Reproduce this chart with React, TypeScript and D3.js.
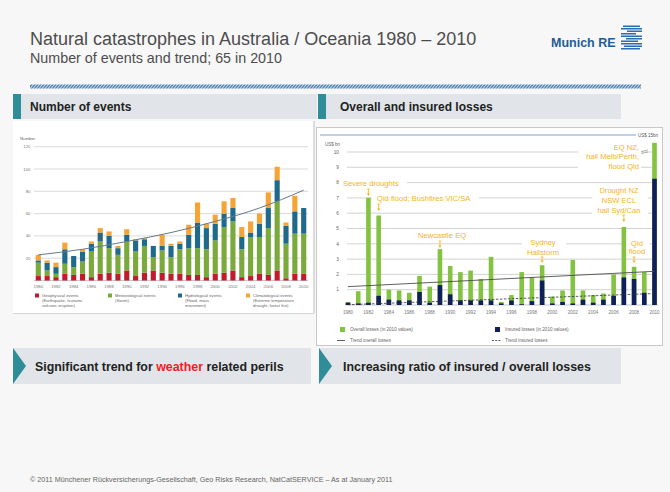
import React from 'react';
import * as d3 from 'd3';

// ---- Number of events (Australia / Oceania) ----
const years = [
  1980, 1981, 1982, 1983, 1984, 1985, 1986, 1987, 1988, 1989, 1990,
  1991, 1992, 1993, 1994, 1995, 1996, 1997, 1998, 1999, 2000,
  2001, 2002, 2003, 2004, 2005, 2006, 2007, 2008, 2009, 2010,
];
const geophysical = [4, 4, 3, 6, 5, 6, 3, 6, 7, 6, 9, 4, 7, 9, 7, 6, 6, 5, 5, 3, 6, 7, 9, 3, 4, 6, 5, 9, 2, 6, 6];
const meteorological = [12, 5, 3, 9, 7, 11, 23, 29, 22, 17, 26, 22, 24, 12, 20, 15, 22, 24, 24, 25, 30, 41, 44, 25, 35, 33, 42, 62, 31, 36, 36];
const hydrological = [2, 7, 6, 13, 10, 9, 7, 8, 11, 6, 6, 10, 6, 10, 4, 10, 5, 12, 23, 19, 15, 12, 12, 11, 4, 12, 18, 19, 16, 20, 23];
const climatological = [5, 2, 4, 6, 0, 2, 2, 4, 4, 2, 5, 1, 1, 0, 10, 2, 2, 9, 18, 4, 8, 11, 9, 9, 10, 9, 14, 12, 3, 14, 0];
const eventTrend: [number, number][] = [
  [1980, 23], [1985, 28], [1990, 35], [1995, 43], [2000, 53], [2005, 65], [2010, 81],
];
const eventTicks = [20, 40, 60, 80, 100, 120];
const yearTicks = [1980, 1982, 1984, 1986, 1988, 1990, 1992, 1994, 1996, 1998, 2000, 2002, 2004, 2006, 2008, 2010];
const eventLegend = [
  { key: 'geophysical', lines: ['Geophysical events', '(Earthquake, tsunami,', 'volcanic eruption)'] },
  { key: 'meteorological', lines: ['Meteorological events', '(Storm)'] },
  { key: 'hydrological', lines: ['Hydrological events', '(Flood, mass', 'movement)'] },
  { key: 'climatological', lines: ['Climatological events', '(Extreme temperature,', 'drought, forest fire)'] },
];

// ---- Overall and insured losses, US$ bn (2010 values) ----
const overallLosses = [0.2, 0.9, 7.0, 5.85, 1.0, 0.95, 0.8, 1.9, 1.2, 3.65, 2.55, 2.15, 2.25, 1.7, 3.15, 0.2, 0.65, 2.15, 1.8, 2.6, 0.55, 0.95, 2.95, 0.95, 0.65, 0.75, 2.0, 5.1, 2.5, 2.15, 15];
const insuredLosses = [0.15, 0.1, 0.15, 0.6, 0.35, 0.3, 0.3, 0.85, 0.15, 1.3, 0.7, 0.3, 0.3, 0.3, 0.3, 0.1, 0.3, 0.05, 0.25, 1.6, 0.1, 0.2, 0.1, 0.35, 0.15, 0.35, 0.6, 1.8, 1.7, 0.8, 8.25];
const overallTrend: [number, number][] = [[1980, 1.2], [2010, 2.2]];
const insuredTrend: [number, number][] = [[1980, 0.02], [2010, 0.75]];
const lossTicks = [1, 2, 3, 4, 5, 6, 7, 8, 9, 10];
const lossEvents = [
  { year: 1982, lines: ['Severe droughts'] },
  { year: 1983, lines: ['Qld flood; Bushfires VIC/SA'] },
  { year: 1989, lines: ['Newcastle EQ'] },
  { year: 1999, lines: ['Sydney', 'Hailstorm'] },
  { year: 2007, lines: ['Drought NZ', 'NSW ECL', 'hail Syd/Can'] },
  { year: 2008, lines: ['Qld', 'flood'] },
  { year: 2010, lines: ['EQ NZ,', 'hail Melb/Perth,', 'flood Qld'] },
];

const FONT = '"Liberation Sans", Arial, Helvetica, sans-serif';
const TEAL = '#2f8d9a';
const BOXGRAY = '#e1e5e9';
const eventColors: Record<string, string> = {
  geophysical: '#c3192c',
  meteorological: '#7aa93c',
  hydrological: '#1f6a8a',
  climatological: '#f6a535',
};
const ANNOT = '#f3b424';

// label placement for the loss annotations (same order as lossEvents)
const annotationLayout = [
  { x: 343, y: 186, anchor: 'start', lh: 10, a0: 189, a1: 196, mask: [339, 177, 68, 12] },
  { x: 377, y: 200.5, anchor: 'start', lh: 10, a0: 204, a1: 211, mask: [372, 191, 107, 12] },
  { x: 418, y: 238, anchor: 'start', lh: 10, a0: 241, a1: 248, mask: [414, 229, 58, 12] },
  { x: 543, y: 245, anchor: 'middle', lh: 9.5, a0: 257, a1: 263, mask: [522, 236, 44, 21] },
  { x: 619, y: 193, anchor: 'middle', lh: 10, a0: 215, a1: 222, mask: [592, 184, 56, 32] },
  { x: 637, y: 245.5, anchor: 'middle', lh: 8.5, a0: 257, a1: 263, mask: [625, 237, 25, 20] },
  { x: 639, y: 149.5, anchor: 'end', lh: 9.5, a0: 0, a1: 0, mask: [578, 141, 63, 30] },
];

function EventsChart() {
  const x = d3.scalePoint<number>().domain(years).range([38.3, 303.7]);
  const bw = x.step() * 0.58;
  const y = d3.scaleLinear().domain([0, 120]).range([280.5, 146.7]);
  const rows = years.map((yr, i) => ({
    year: yr,
    geophysical: geophysical[i],
    meteorological: meteorological[i],
    hydrological: hydrological[i],
    climatological: climatological[i],
  }));
  const keys = ['geophysical', 'meteorological', 'hydrological', 'climatological'];
  const series = d3.stack<any>().keys(keys)(rows);
  const trend = d3
    .line<[number, number]>()
    .x((d) => x(d[0]) as number)
    .y((d) => y(d[1]))
    .curve(d3.curveMonotoneX)(eventTrend);
  const legendX = [35, 108, 178, 246];

  return (
    <g fontFamily={FONT}>
      <rect x={13} y={121} width={301} height={192} fill="#fff" />
      <line x1={314} y1={121} x2={314} y2={313} stroke="#bdbdbd" strokeWidth={1} />
      <line x1={13} y1={313.5} x2={314} y2={313.5} stroke="#d6d6d6" strokeWidth={1} />
      <text x={20} y={140} fontSize={4.3} fill="#666">Number</text>
      {eventTicks.map((t) => (
        <g key={t}>
          <line x1={34} x2={308} y1={y(t)} y2={y(t)} stroke="#d0d0d0" strokeWidth={0.8} />
          <text x={30.5} y={y(t) + 1.5} fontSize={4.3} fill="#777" textAnchor="end">{t}</text>
        </g>
      ))}
      <line x1={34} x2={308} y1={y(0)} y2={y(0)} stroke="#bbb" strokeWidth={0.8} />
      {series.map((s) => (
        <g key={s.key} fill={eventColors[s.key]}>
          {s.map((d, i) => (
            <rect
              key={i}
              x={(x(years[i]) as number) - bw / 2}
              width={bw}
              y={y(d[1])}
              height={Math.max(0, y(d[0]) - y(d[1]))}
            />
          ))}
        </g>
      ))}
      <path d={trend || ''} fill="none" stroke="#66788a" strokeWidth={1} />
      {yearTicks.map((t) => (
        <text key={t} x={x(t)} y={288} fontSize={4.3} fill="#777" textAnchor="middle">{t}</text>
      ))}
      {eventLegend.map((item, i) => (
        <g key={item.key}>
          <rect x={legendX[i]} y={293.5} width={4} height={4} fill={eventColors[item.key]} />
          {item.lines.map((ln, j) => (
            <text key={j} x={legendX[i] + 7} y={297 + j * 5} fontSize={4.2} fill="#666">{ln}</text>
          ))}
        </g>
      ))}
    </g>
  );
}

function LossesChart() {
  const x = d3.scalePoint<number>().domain(years).range([348, 654.5]);
  const bw = 4.6;
  const y = d3.scaleLinear().domain([0, 10]).range([305, 152]);
  const cap = 10.6; // bars above this are cut by the axis break
  const shown = (v: number) => Math.min(v, cap);
  const lineGen = d3
    .line<[number, number]>()
    .x((d) => x(d[0]) as number)
    .y((d) => y(d[1]));

  return (
    <g fontFamily={FONT}>
      <rect x={316.5} y={127.5} width={346} height={218} fill="#fff" stroke="#c9c9c9" strokeWidth={1} />
      <line x1={320} x2={636} y1={135} y2={135} stroke="#a8c3dc" strokeWidth={1.6} />
      <text x={638} y={137} fontSize={4.5} fill="#555">US$ 15bn</text>
      <text x={325} y={146} fontSize={4.5} fill="#666">US$ bn</text>
      {lossTicks.map((t) => (
        <g key={t}>
          <line x1={347} x2={655} y1={y(t)} y2={y(t)} stroke="#c6c6c6" strokeWidth={0.8} />
          <text x={339} y={y(t) + 1.7} fontSize={4.8} fill="#666" textAnchor="end">{t}</text>
        </g>
      ))}
      <line x1={345} x2={658} y1={y(0)} y2={y(0)} stroke="#bbb" strokeWidth={0.8} />
      {annotationLayout.map((a, i) => (
        <rect key={i} x={a.mask[0]} y={a.mask[1]} width={a.mask[2]} height={a.mask[3]} fill="#fff" />
      ))}
      {overallLosses.map((v, i) => (
        <rect
          key={'o' + i}
          x={(x(years[i]) as number) - bw / 2}
          width={bw}
          y={y(shown(v))}
          height={y(0) - y(shown(v))}
          fill="#84c341"
        />
      ))}
      {insuredLosses.map((v, i) => (
        <rect
          key={'n' + i}
          x={(x(years[i]) as number) - bw / 2}
          width={bw}
          y={y(shown(v))}
          height={y(0) - y(shown(v))}
          fill="#0e1f5b"
        />
      ))}
      {/* axis break on the 2010 bar */}
      <g stroke="#888" strokeWidth={0.6}>
        <line x1={641} x2={648} y1={151.5} y2={150} />
        <line x1={641} x2={648} y1={153.5} y2={152} />
      </g>
      <path d={lineGen(overallTrend) || ''} fill="none" stroke="#4d4d4d" strokeWidth={0.9} />
      <path d={lineGen(insuredTrend) || ''} fill="none" stroke="#333" strokeWidth={0.8} strokeDasharray="2.5 1.5" />
      {lossEvents.map((ev, i) => {
        const a = annotationLayout[i];
        const ax = x(ev.year) as number;
        return (
          <g key={i}>
            {ev.lines.map((ln, j) => (
              <text key={j} x={a.x} y={a.y + j * a.lh} fontSize={7.6} fill={ANNOT} textAnchor={a.anchor as any}>
                {ln}
              </text>
            ))}
            {a.a1 > a.a0 && (
              <g stroke={ANNOT} strokeWidth={0.8} fill={ANNOT}>
                <line x1={ax - 1.5} x2={ax + 1.5} y1={a.a0} y2={a.a0} />
                <line x1={ax} x2={ax} y1={a.a0} y2={a.a1 - 2} />
                <path d={`M${ax - 1.6},${a.a1 - 2.4}L${ax + 1.6},${a.a1 - 2.4}L${ax},${a.a1}Z`} stroke="none" />
              </g>
            )}
          </g>
        );
      })}
      {yearTicks.map((t) => (
        <text key={t} x={x(t)} y={314} fontSize={4.6} fill="#777" textAnchor="middle">{t}</text>
      ))}
      <rect x={340} y={327} width={5} height={5} fill="#84c341" />
      <text x={350} y={331.3} fontSize={4.6} fill="#666">Overall losses (in 2010 values)</text>
      <rect x={495} y={327} width={5} height={5} fill="#0e1f5b" />
      <text x={505} y={331.3} fontSize={4.6} fill="#666">Insured losses (in 2010 values)</text>
      <line x1={337} x2={345} y1={340.5} y2={340.5} stroke="#4d4d4d" strokeWidth={0.9} />
      <text x={350} y={342} fontSize={4.6} fill="#666">Trend overall losses</text>
      <line x1={492} x2={501} y1={340.5} y2={340.5} stroke="#333" strokeWidth={0.8} strokeDasharray="2 1.2" />
      <text x={505} y={342} fontSize={4.6} fill="#666">Trend insured losses</text>
    </g>
  );
}

function Logo() {
  // stacked stripes of the company mark
  const stripes = [
    [623, 640], [621, 642], [627, 642], [621, 636], [621, 642],
    [626, 642], [621, 638], [621, 642], [624, 642], [621, 640],
  ];
  return (
    <g fill="#2a6db0">
      {stripes.map((s, i) => (
        <rect key={i} x={s[0]} y={25.5 + i * 2.5} width={s[1] - s[0]} height={1.5} />
      ))}
    </g>
  );
}

export default function App() {
  return (
    <svg
      width={670}
      height={492}
      viewBox="0 0 670 492"
      style={{ position: 'absolute', left: 0, top: 0, display: 'block' }}
      fontFamily={FONT}
    >
      <defs>
        <pattern id="hatch" width={3} height={4} patternUnits="userSpaceOnUse" patternTransform="skewX(-40)">
          <rect width={3} height={4} fill="#dfe8f2" />
          <rect width={1.6} height={4} fill="#2f6ea8" />
        </pattern>
      </defs>
      <rect width={670} height={492} fill="#f7f7f7" />

      <text x={30} y={45} fontSize={18} fill="#4d4d4d">Natural catastrophes in Australia / Oceania 1980 – 2010</text>
      <text x={30} y={62.5} fontSize={14.3} fill="#4d4d4d">Number of events and trend; 65 in 2010</text>
      <text x={551} y={47} fontSize={12.5} fontWeight="bold" fill="#1f5c97">Munich RE</text>
      <Logo />
      <rect x={30} y={84.5} width={611} height={4} fill="url(#hatch)" />

      {/* section headers */}
      <rect x={13} y={94} width={304} height={25} fill={BOXGRAY} />
      <rect x={13} y={94} width={8} height={25} fill={TEAL} />
      <text x={30} y={111} fontSize={12} fontWeight="bold" fill="#222">Number of events</text>
      <rect x={318} y={94} width={303} height={25} fill={BOXGRAY} />
      <rect x={318} y={94} width={8} height={25} fill={TEAL} />
      <text x={340} y={111} fontSize={12} fontWeight="bold" fill="#222">Overall and insured losses</text>

      <EventsChart />
      <LossesChart />

      {/* conclusions */}
      <rect x={13} y={348} width={298} height={36} fill={BOXGRAY} />
      <path d="M13,348L26,366L13,384Z" fill={TEAL} />
      <text x={35} y={371} fontSize={12.4} fontWeight="bold" fill="#222">
        Significant trend for <tspan fill="#f01e1e">weather</tspan> related perils
      </text>
      <rect x={319} y={348} width={302} height={36} fill={BOXGRAY} />
      <path d="M319,348L332,366L319,384Z" fill={TEAL} />
      <text x={343} y={371} fontSize={12.4} fontWeight="bold" fill="#222">
        Increasing ratio of insured / overall losses
      </text>

      <text x={30} y={482} fontSize={7.2} fill="#666">
        © 2011 Münchener Rückversicherungs-Gesellschaft, Geo Risks Research, NatCatSERVICE – As at January 2011
      </text>
    </svg>
  );
}
